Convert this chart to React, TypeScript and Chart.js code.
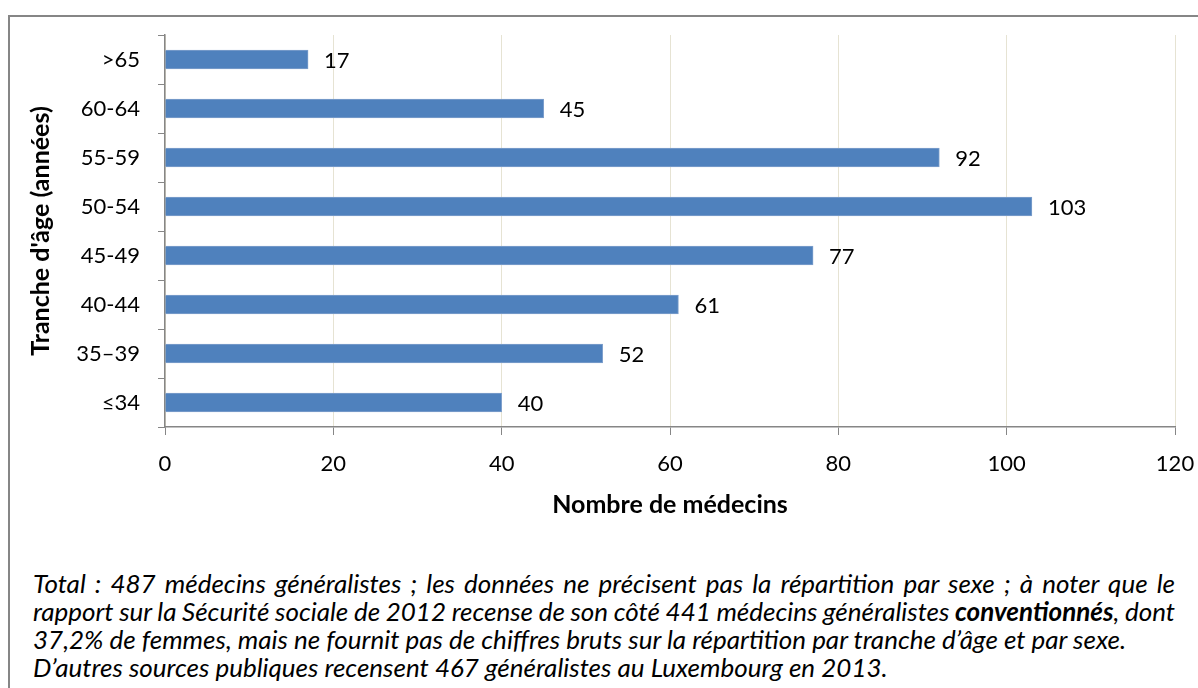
import React, { useEffect, useRef } from "react";
import { Chart, registerables } from "chart.js";

Chart.register(...registerables);

const categories = [">65", "60-64", "55-59", "50-54", "45-49", "40-44", "35–39", "≤34"];
const doctorCounts = [17, 45, 92, 103, 77, 61, 52, 40];
const xTickValues = [0, 20, 40, 60, 80, 100, 120];
const xAxisTitle = "Nombre de médecins";
const yAxisTitle = "Tranche d'âge (années)";

const FONT = "Lato, 'Noto Sans', sans-serif";
const FS = 22;

const valueLabels = {
  id: "valueLabels",
  afterDatasetsDraw(chart: any) {
    const { ctx } = chart;
    const meta = chart.getDatasetMeta(0);
    ctx.save();
    ctx.font = `${FS}px ${FONT}`;
    ctx.fillStyle = "#000";
    ctx.textAlign = "left";
    ctx.textBaseline = "middle";
    meta.data.forEach((bar: any, i: number) => {
      ctx.fillText(String(doctorCounts[i]), bar.x + 16, bar.y + 1);
    });
    ctx.restore();
  },
};

export default function App() {
  const ref = useRef<HTMLCanvasElement>(null);
  useEffect(() => {
    if (!ref.current) return;
    const chart = new Chart(ref.current, {
      type: "bar",
      data: {
        labels: categories,
        datasets: [
          {
            data: doctorCounts,
            backgroundColor: "#4F81BD",
            borderColor: "#7FA0CC",
            borderWidth: 1,
            barThickness: 19,
          },
        ],
      },
      plugins: [valueLabels],
      options: {
        indexAxis: "y",
        responsive: false,
        animation: false,
        layout: { padding: { top: 18, right: 31, left: 0, bottom: 0 } },
        plugins: { legend: { display: false }, tooltip: { enabled: false } },
        scales: {
          x: {
            min: 0,
            max: 120,
            afterBuildTicks: (scale: any) => {
              scale.ticks = xTickValues.map((v) => ({ value: v }));
            },
            afterFit: (scale: any) => {
              scale.height = 110;
              scale.paddingLeft = 0;
              scale.paddingRight = 0;
            },
            grid: {
              color: "#E6E3D3",
              tickColor: "#868686",
              tickLength: 8,
              lineWidth: 1,
            },
            border: { color: "#868686", width: 1.5 },
            ticks: { color: "#000", font: { family: FONT, size: FS }, padding: 16 },
            title: {
              display: true,
              text: xAxisTitle,
              color: "#000",
              font: { family: FONT, size: 25, weight: "bold" },
              padding: { top: 0, bottom: 17 },
            },
          },
          y: {
            afterFit: (scale: any) => {
              scale.width = 155;
              scale.paddingTop = 0;
              scale.paddingBottom = 0;
            },
            grid: {
              display: true,
              drawOnChartArea: false,
              offset: true,
              tickColor: "#868686",
              tickLength: 7,
            },
            border: { color: "#868686", width: 1.5 },
            ticks: { color: "#000", font: { family: FONT, size: FS }, padding: 18 },
            title: {
              display: true,
              text: yAxisTitle,
              color: "#000",
              font: { family: FONT, size: 25, weight: "bold" },
              padding: { top: 16, bottom: 0 },
            },
          },
        },
      },
    } as any);
    return () => chart.destroy();
  }, []);

  const lineStyle: React.CSSProperties = {
    textAlign: "justify",
    textAlignLast: "justify" as any,
    whiteSpace: "nowrap",
  };

  return (
    <>
      <style>{"html,body{overflow:hidden;}"}</style>
      <div
        style={{
          position: "absolute",
          left: 8,
          top: 15,
          width: 1196,
          height: 673,
          borderTop: "2px solid #868686",
          borderLeft: "2px solid #868686",
          fontFamily: FONT,
          overflow: "hidden",
        }}
      >
        <canvas ref={ref} width={1196} height={520} style={{ display: "block" }} />
        <div
          style={{
            marginTop: 32,
            width: 1142,
            paddingLeft: 23,
            fontStyle: "italic",
            fontSize: 26,
            lineHeight: "28px",
            color: "#000",
          }}
        >
          <div style={lineStyle}>
            Total : 487 médecins généralistes ; les données ne précisent pas la répartition par sexe ; à noter que le
          </div>
          <div style={{ ...lineStyle, wordSpacing: "-2px" }}>
            rapport sur la Sécurité sociale de 2012 recense de son côté 441 médecins généralistes <b>conventionnés</b>, dont
          </div>
          <div style={{ whiteSpace: "nowrap" }}>
            37,2% de femmes, mais ne fournit pas de chiffres bruts sur la répartition par tranche d’âge et par sexe.
          </div>
          <div style={{ whiteSpace: "nowrap" }}>
            D’autres sources publiques recensent 467 généralistes au Luxembourg en 2013.
          </div>
        </div>
      </div>
    </>
  );
}
